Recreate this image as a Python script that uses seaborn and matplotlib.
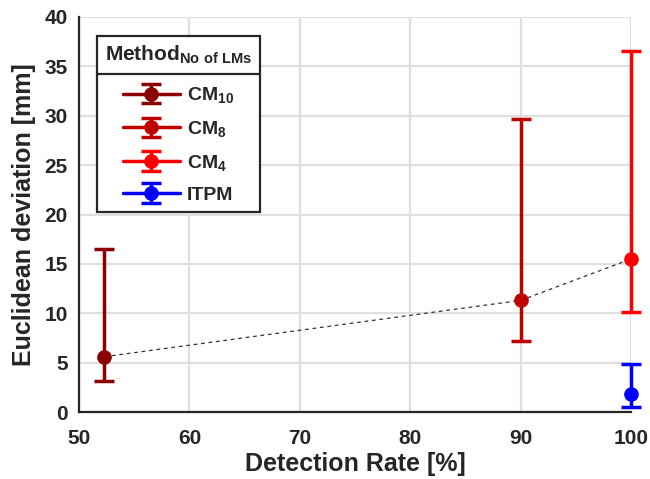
import matplotlib
matplotlib.use("Agg")
import matplotlib.pyplot as plt
import seaborn as sns
import pandas as pd
from matplotlib.lines import Line2D

# Data
methods = ["CM$_{\\mathbf{10}}$", "CM$_{\\mathbf{8}}$", "CM$_{\\mathbf{4}}$", "ITPM"]
detection_rate = [52.3, 90.0, 100.0, 100.0]
mean_dev = [5.6, 11.3, 15.5, 1.85]
lower_dev = [3.1, 7.2, 10.15, 0.5]
upper_dev = [16.5, 29.7, 36.6, 4.9]
colors = ["#8B0000", "#C00000", "#FF0000", "#0000FF"]
x_ticks = [50, 60, 70, 80, 90, 100]
y_ticks = [0, 5, 10, 15, 20, 25, 30, 35, 40]

sns.set_style("white")
plt.rcParams["font.family"] = ["Liberation Sans", "DejaVu Sans"]
plt.rcParams["font.weight"] = "bold"
plt.rcParams["mathtext.fontset"] = "custom"
plt.rcParams["mathtext.rm"] = "Liberation Sans:bold"
plt.rcParams["mathtext.bf"] = "Liberation Sans:bold"
plt.rcParams["mathtext.it"] = "Liberation Sans:bold"

dark = "#262626"
fig = plt.figure(figsize=(6.5, 4.79), dpi=100)
ax = fig.add_axes([79 / 650, 1 - 412 / 479, (631 - 79) / 650, (412 - 17) / 479])

ax.set_xlim(50, 100)
ax.set_ylim(0, 40)
ax.set_xticks(x_ticks)
ax.set_yticks(y_ticks)
ax.grid(True, color="#DFDFDF", linewidth=1.6, zorder=0)
ax.set_axisbelow(True)

# dashed connecting line (CM series)
df = pd.DataFrame({"x": detection_rate[:3], "y": mean_dev[:3]})
sns.lineplot(data=df, x="x", y="y", ax=ax, color="#333333", linestyle=(0, (3, 3)),
             linewidth=0.9, zorder=2, sort=False)

for i in range(len(methods)):
    yerr = [[mean_dev[i] - lower_dev[i]], [upper_dev[i] - mean_dev[i]]]
    ax.errorbar([detection_rate[i]], [mean_dev[i]], yerr=yerr, color=colors[i],
                marker="o", markersize=9.5, linewidth=2.5, elinewidth=2.5,
                capsize=7, capthick=2.5, label=methods[i], zorder=3, clip_on=False)

for s in ["top", "right"]:
    ax.spines[s].set_visible(False)
for s in ["left", "bottom"]:
    ax.spines[s].set_color(dark)
    ax.spines[s].set_linewidth(1.6)
ax.tick_params(axis="both", direction="in", length=5, width=1.6, color=dark,
               labelsize=15, labelcolor=dark)
ax.tick_params(axis="x", pad=12)
ax.tick_params(axis="y", pad=8)
for lab in ax.get_xticklabels() + ax.get_yticklabels():
    lab.set_fontweight("bold")

ax.set_xlabel("Detection Rate [%]", fontsize=18, fontweight="bold", color=dark, labelpad=3)
ax.set_ylabel("Euclidean deviation [mm]", fontsize=18, fontweight="bold", color=dark, labelpad=6)

leg = ax.legend(loc="upper left", bbox_to_anchor=(0.033, 0.952),
                title="Method$_{\\mathbf{No\\ of\\ LMs}}$",
                fontsize=14, title_fontsize=15, frameon=True, fancybox=False,
                framealpha=1, edgecolor=dark, borderpad=0.4, handlelength=2.9,
                labelspacing=0.7, handletextpad=0.36, borderaxespad=0)
leg.get_frame().set_linewidth(1.6)
leg.get_title().set_fontweight("bold")
leg._legend_box.sep = 14

fig.canvas.draw()
r = fig.canvas.get_renderer()
lb = leg.get_window_extent(r)
t0 = leg.get_texts()[0].get_window_extent(r)
ysep = (t0.y0 + t0.y1) / 2 + 21
inv = fig.transFigure.inverted()
(x0, y0) = inv.transform((lb.x0, ysep))
(x1, _) = inv.transform((lb.x1, ysep))
fig.add_artist(Line2D([x0, x1], [y0, y0], color=dark, linewidth=1.6, zorder=10))

fig.savefig("out.png", dpi=100)
